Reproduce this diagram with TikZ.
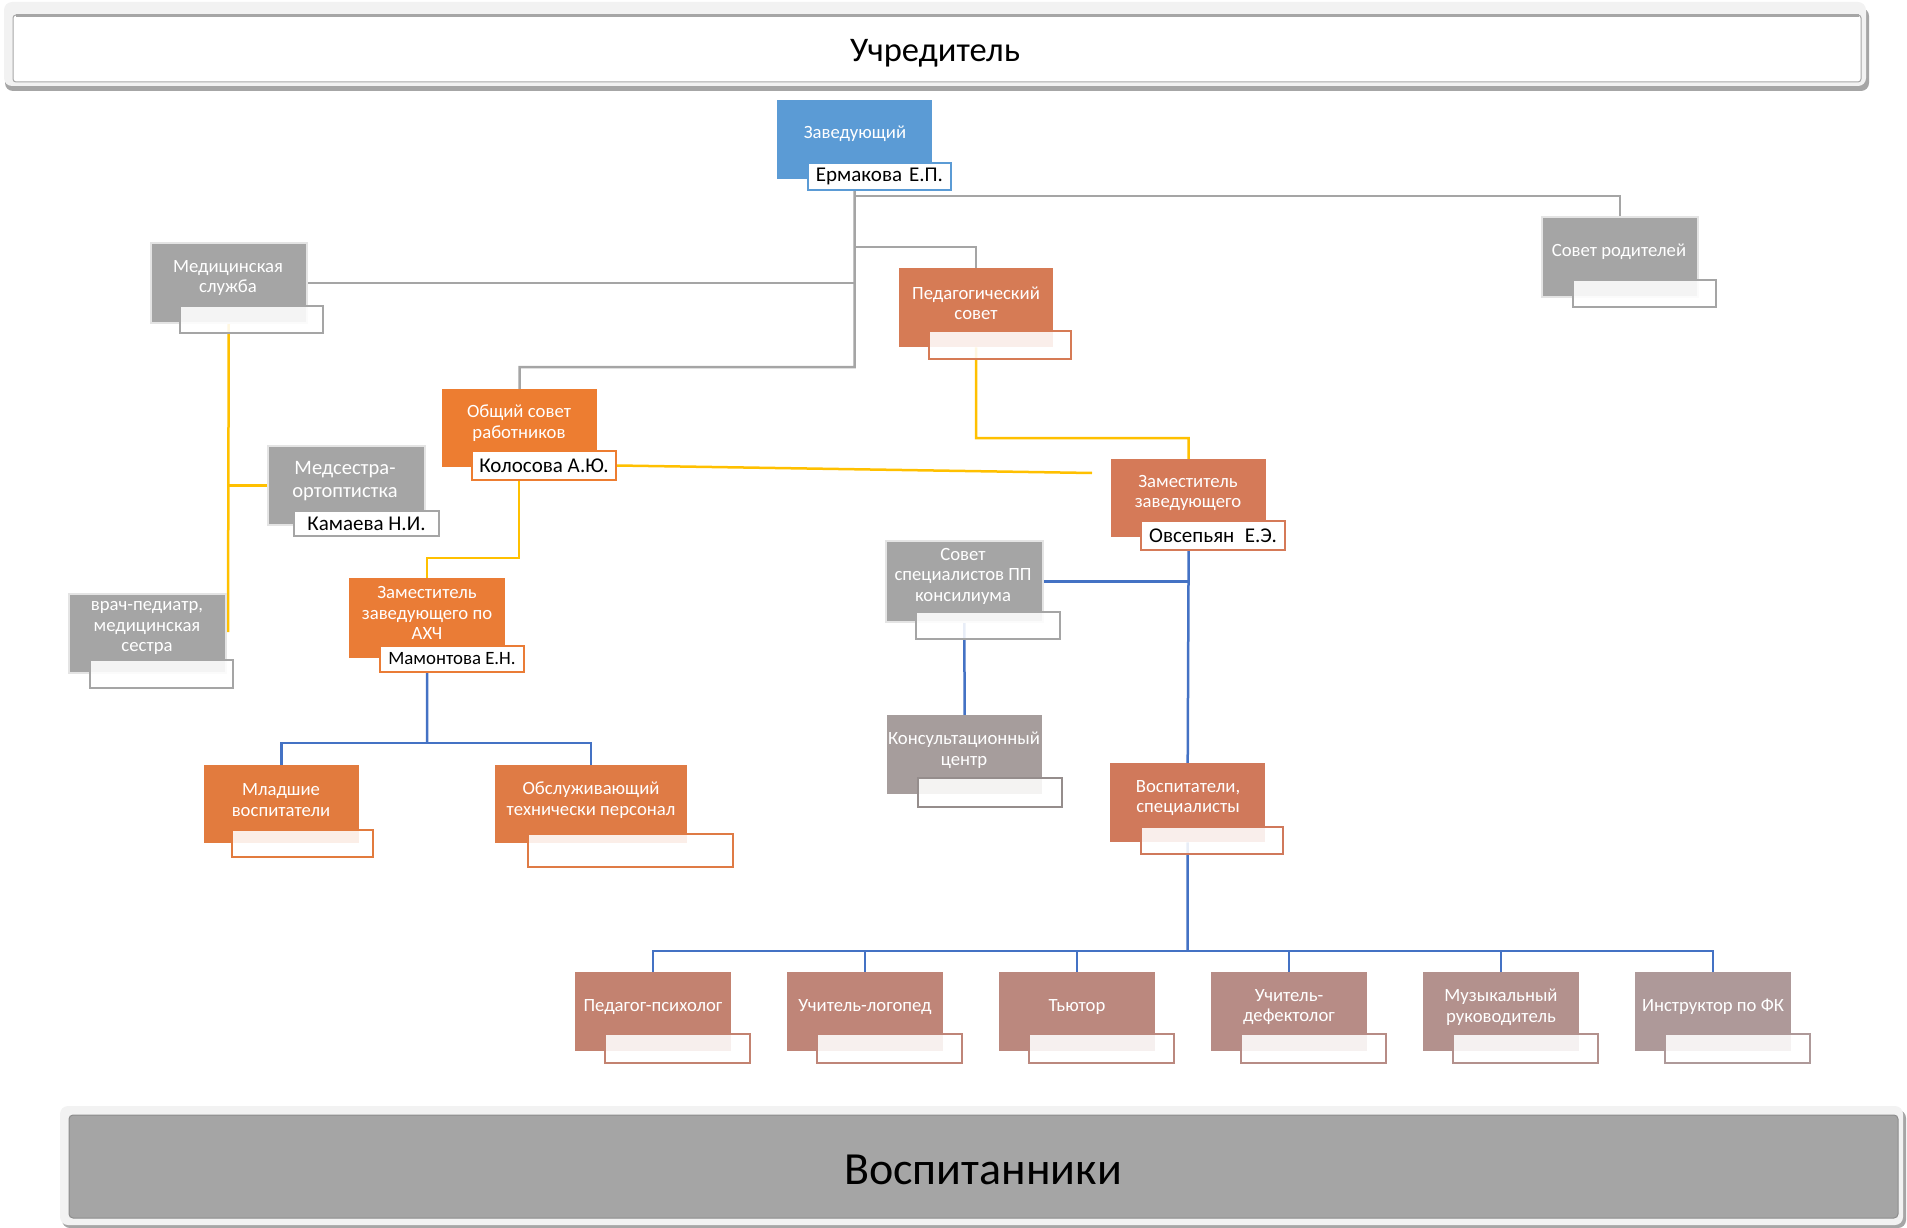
\documentclass[tikz,border=0pt]{standalone}
\usepackage{fontspec}
\setmainfont{Carlito}
\usetikzlibrary{calc}
\pgfdeclarelayer{background}
\pgfsetlayers{background,main}
\definecolor{cBlue}{HTML}{5B9BD5}
\definecolor{cGray}{HTML}{A5A5A5}
\definecolor{cGlow}{HTML}{E4E4E4}
\definecolor{cShadow}{HTML}{A6A6A6}
\definecolor{cLight}{HTML}{F2F2F2}
\definecolor{cDark}{HTML}{8C8C8C}
\definecolor{cOrange}{HTML}{ED7D31}
\definecolor{cPed}{HTML}{D67B55}
\definecolor{cZam}{HTML}{D57A58}
\definecolor{cVosp}{HTML}{D0795B}
\definecolor{cAxch}{HTML}{EA7C36}
\definecolor{cMlad}{HTML}{E27B3E}
\definecolor{cObsl}{HTML}{DF7B45}
\definecolor{cKons}{HTML}{A69D9C}
\definecolor{cRa}{HTML}{C38270}
\definecolor{cRb}{HTML}{BF8578}
\definecolor{cRc}{HTML}{BB887E}
\definecolor{cRd}{HTML}{B78C86}
\definecolor{cRe}{HTML}{B3918D}
\definecolor{cRf}{HTML}{AE9999}
\definecolor{cYel}{HTML}{FFC000}
\definecolor{cLine}{HTML}{4472C4}
\newcommand\bxfont{\fontsize{18.7}{20.5}\selectfont}
\newcommand\tgfont{\fontsize{21}{22}\selectfont}
\begin{document}
\begin{tikzpicture}[x=1pt,y=-1pt,
  mainbox/.style={anchor=north west, inner sep=0pt, minimum width=155pt, minimum height=79pt},
  graybox/.style={mainbox, fill=cGray, draw=cGlow, line width=1.5pt},
  tagbox/.style={anchor=north west, inner sep=0pt, minimum width=143pt, minimum height=27pt, line width=2pt, fill=white, font=\tgfont, text=black},
  emptytag/.style={tagbox, fill opacity=0.88},
  lbl/.style={align=center, text=white, font=\bxfont, inner sep=0pt},
  gline/.style={draw=cGray, line width=2.5pt},
  yline/.style={draw=cYel, line width=2.5pt},
  bline/.style={draw=cLine, line width=2.5pt}]
\useasboundingbox (0,0) rectangle (1907,1228);

% ---------- top banner
\fill[cShadow, rounded corners=8pt] (5,8) rectangle (1869,91);
\fill[cLight, rounded corners=8pt] (4,2) rectangle (1866,86);
\node[draw=cShadow, fill=white, line width=1pt, rounded corners=3pt, minimum width=1848pt, minimum height=67pt, inner sep=0pt] (uchr) at (937,48.5) {};
\draw[cShadow, line width=3pt] ($(uchr.north west)+(3,1)$) -- ($(uchr.north east)+(-3,1)$);
\node[font=\fontsize{34.5}{38}\selectfont, inner sep=0pt] (uchr-t) at (935,53) {Учредитель};

% ---------- bottom banner
\fill[cShadow, rounded corners=8pt] (62,1110) rectangle (1906,1228);
\fill[cLight, rounded corners=8pt] (60,1106) rectangle (1903,1225);
\node[fill=cGray, draw=cDark, line width=1pt, rounded corners=4pt, minimum width=1829pt, minimum height=103pt, inner sep=0pt] (vospb) at (983.5,1166.5) {};
\node[font=\fontsize{46}{50}\selectfont, inner sep=0pt] (vospb-t) at (983,1170) {Воспитанники};

% ---------- units
\node[mainbox, fill=cBlue] (zav) at (777,100) {};
\node[lbl] (zav-t) at (855,134) {Заведующий};
\node[tagbox, draw=cBlue] (zav-n) at (807,162) {Ермакова\,\,Е.П.};

\node[graybox, minimum width=156pt, minimum height=80pt] (med) at (150,242) {};
\node[lbl] (med-t) at (228,278) {Медицинская\\служба};
\node[emptytag, draw=cGray] (med-n) at (179,305) {};

\node[graybox, minimum width=156pt, minimum height=80pt] (sovrod) at (1541,216) {};
\node[lbl] (sovrod-t) at (1619,252) {Совет родителей};
\node[emptytag, draw=cGray] (sovrod-n) at (1572,279) {};

\node[mainbox, fill=cPed, minimum width=154pt] (ped) at (899,268) {};
\node[lbl] (ped-t) at (976,303) {Педагогический\\совет};
\node[emptytag, draw=cPed, minimum width=142pt, minimum height=28pt] (ped-n) at (928,330) {};

\node[mainbox, fill=cOrange, minimum height=78pt] (obsh) at (442,389) {};
\node[lbl] (obsh-t) at (519,423) {Общий совет\\работников};
\node[tagbox, draw=cOrange, minimum width=144pt, minimum height=29pt] (obsh-n) at (471,450) {Колосова А.Ю.};

\node[graybox, minimum width=157pt] (medsis) at (267,445) {};
\node[lbl, font=\fontsize{20.5}{23}\selectfont] (medsis-t) at (345,481) {Медсестра-\\ортоптистка};
\node[tagbox, draw=cGray, minimum width=145pt, minimum height=25pt] (medsis-n) at (293,510) {Камаева Н.И.};

\node[graybox, minimum width=157pt] (vrach) at (68,593) {};
\node[lbl] (vrach-t) at (147,628) {врач-педиатр,\\медицинская\\сестра};
\node[emptytag, draw=cGray, minimum height=28pt] (vrach-n) at (89,659) {};

\node[mainbox, fill=cZam, minimum height=78pt] (zam) at (1111,459) {};
\node[lbl] (zam-t) at (1188,493) {Заместитель\\заведующего};
\node[tagbox, draw=cZam, minimum width=144pt, minimum height=29pt] (zam-n) at (1140,520) {Овсепьян\,\,\,Е.Э.};

\node[graybox, minimum width=157pt, minimum height=81pt] (sovspec) at (885,540) {};
\node[lbl] (sovspec-t) at (963,576) {Совет\\специалистов ПП\\консилиума};
\node[emptytag, draw=cGray, minimum width=144pt] (sovspec-n) at (915,611) {};

\node[mainbox, fill=cKons] (konsult) at (887,715) {};
\node[lbl] (konsult-t) at (964,750) {Консультационный\\центр};
\node[emptytag, draw=cKons!90!black, minimum width=144pt, minimum height=29pt] (konsult-n) at (917,777) {};

\node[mainbox, fill=cAxch, minimum width=156pt, minimum height=80pt] (axch) at (349,578) {};
\node[lbl] (axch-t) at (427,613) {Заместитель\\заведующего по\\АХЧ};
\node[tagbox, draw=cAxch, minimum width=144pt, minimum height=26pt, font=\fontsize{18.8}{20}\selectfont] (axch-n) at (379,645) {Мамонтова Е.Н.};

\node[mainbox, fill=cMlad, minimum height=78pt] (mlad) at (204,765) {};
\node[lbl] (mlad-t) at (281,800) {Младшие\\воспитатели};
\node[emptytag, draw=cMlad, minimum width=141pt] (mlad-n) at (231,829) {};

\node[mainbox, fill=cObsl, minimum width=192pt, minimum height=78pt] (obsl) at (495,765) {};
\node[lbl] (obsl-t) at (591,800) {Обслуживающий\\технически персонал};
\node[emptytag, draw=cObsl, minimum width=205pt, minimum height=33pt] (obsl-n) at (527,833) {};

\node[mainbox, fill=cVosp] (vosp) at (1110,763) {};
\node[lbl] (vosp-t) at (1188,798) {Воспитатели,\\специалисты};
\node[emptytag, draw=cVosp, minimum width=142pt] (vosp-n) at (1140,826) {};

% bottom row
\foreach \i/\c/\t in {0/cRa/{Педагог-психолог},1/cRb/{Учитель-логопед},2/cRc/{Тьютор},3/cRd/{Учитель-\\дефектолог},4/cRe/{Музыкальный\\руководитель},5/cRf/{Инструктор по ФК}}{
  \node[mainbox, fill=\c, minimum width=156pt] (r\i) at (575+212*\i,972) {};
  \node[lbl] (r\i-t) at (653+212*\i,1007) {\t};
  \node[emptytag, draw=\c, minimum width=145pt, minimum height=29pt] (r\i-n) at (604+212*\i,1033) {};
}

% ---------- connectors
\begin{pgfonlayer}{background}
  \coordinate (g1) at (854.5,367);
  \coordinate (g2) at (854.5,196);
  \coordinate (g3) at (854.5,247);
  \draw[gline] (zav.south) -- (g1) -| (obsh.north);
  \draw[gline] (g2) -| (sovrod.north);
  \draw[gline] (g3) -| (ped.north);
  \draw[gline] (med.east) -- (med.east -| zav.south);

  \coordinate (y1) at (228,632);
  \coordinate (y2) at (1092,473);
  \coordinate (y3) at (519,558);
  \coordinate (y4) at (976,438);
  \draw[yline] (med.south) -- (y1);
  \draw[yline] (medsis.west) -- (medsis.west -| med.south);
  \draw[yline] (obsh-n.east) -- (y2);
  \draw[yline] (obsh.south -| y3) -- (y3) -| (axch.north);
  \draw[yline] (ped.south) -- (y4) -| (zam.north);

  \coordinate (b1) at (427,743);
  \coordinate (b2) at (1187.5,951);
  \draw[bline] (zam.south) -- (vosp.north);
  \draw[bline] (sovspec.east) -- (sovspec.east -| zam.south);
  \draw[bline] (sovspec.south) -- (konsult.north);
  \draw[bline] (axch.south) -- (b1);
  \draw[bline] (mlad.north) |- (b1) -| (obsl.north);
  \draw[bline] (vosp.south) -- (b2);
  \foreach \i in {0,...,5}{\draw[bline] (b2) -| (r\i.north);}
\end{pgfonlayer}
\end{tikzpicture}
\end{document}
